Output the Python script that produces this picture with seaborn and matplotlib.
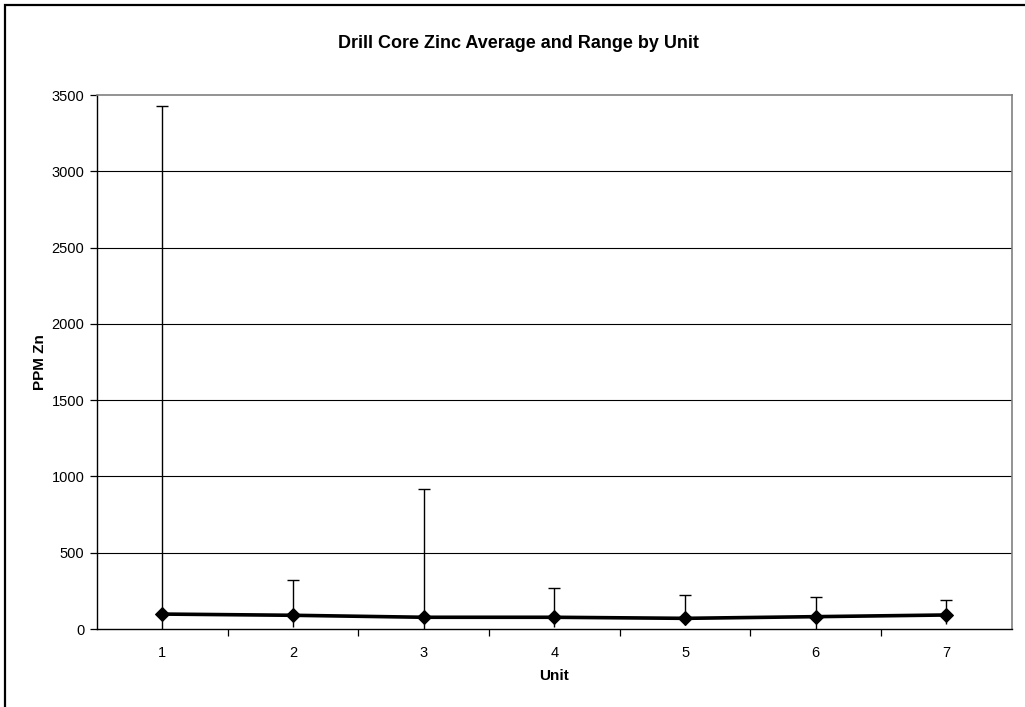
import matplotlib
matplotlib.use('Agg')
import matplotlib.pyplot as plt
import seaborn as sns
import pandas as pd
from matplotlib.patches import Rectangle

# Values
units = [1, 2, 3, 4, 5, 6, 7]
zn_mean = [98, 90, 77, 77, 70, 81, 92]
zn_max = [3430, 321, 917, 271, 221, 208, 192]
zn_min = [0, 10, 0, 15, 26, 0, 33]

df = pd.DataFrame({'Unit': units, 'Mean': zn_mean, 'Max': zn_max, 'Min': zn_min})

sns.set_style('white')
plt.rcParams['font.family'] = ['Liberation Sans', 'DejaVu Sans']
plt.rcParams['text.color'] = 'black'
plt.rcParams['axes.labelcolor'] = 'black'
plt.rcParams['xtick.color'] = 'black'
plt.rcParams['ytick.color'] = 'black'

fig = plt.figure(figsize=(10.25, 7.07), dpi=100)
ax = fig.add_axes([0.0946, 0.1103, 0.8925, 0.7553])

# frame around the chart (image is cropped on right and bottom)
fig.patches.append(Rectangle((0.005, -0.05), 1.2, 1.043, transform=fig.transFigure,
                             fill=False, edgecolor='black', linewidth=1.6))

# range whiskers: upper part with cap, lower part without
up = df['Max'] - df['Mean']
ax.errorbar(df['Unit'], df['Mean'], yerr=[[0] * len(df), up], fmt='none',
            ecolor='black', elinewidth=1.0, capsize=4.5, capthick=1.0, zorder=3)
ax.vlines(df['Unit'], df['Min'], df['Mean'], color='black', linewidth=1.0, zorder=3)

sns.lineplot(data=df, x='Unit', y='Mean', ax=ax, color='black', linewidth=2.6,
             marker='D', markersize=7.5, markeredgecolor='black', zorder=4)

ax.set_xlim(0.5, 7.5)
ax.set_ylim(0, 3500)
ax.set_yticks(range(0, 3501, 500))
ax.set_xticks(units)
ax.set_xticks([u + 0.5 for u in units[:-1]], minor=True)
ax.tick_params(axis='x', which='major', length=0, labelsize=10.5, pad=12)
ax.tick_params(axis='x', which='minor', length=5, width=0.9, color='black', direction='out')
ax.tick_params(axis='y', length=5, width=0.9, color='black', direction='out', labelsize=10.5, pad=4)
ax.yaxis.set_ticks_position('left')
ax.xaxis.set_ticks_position('bottom')

for y in range(500, 3001, 500):
    ax.axhline(y, color='black', linewidth=0.8, zorder=1)

for side in ['top', 'right']:
    ax.spines[side].set_color('#808080')
    ax.spines[side].set_linewidth(1.2)
for side in ['left', 'bottom']:
    ax.spines[side].set_color('black')
    ax.spines[side].set_linewidth(1.0)

ax.set_xlabel('Unit', fontsize=11, fontweight='bold', labelpad=7)
ax.set_ylabel('PPM Zn', fontsize=11, fontweight='bold', labelpad=3)
fig.text(0.506, 0.938, 'Drill Core Zinc Average and Range by Unit', ha='center', va='center',
         fontsize=13, fontweight='bold')

fig.savefig('out.png', dpi=100)
plt.close(fig)
